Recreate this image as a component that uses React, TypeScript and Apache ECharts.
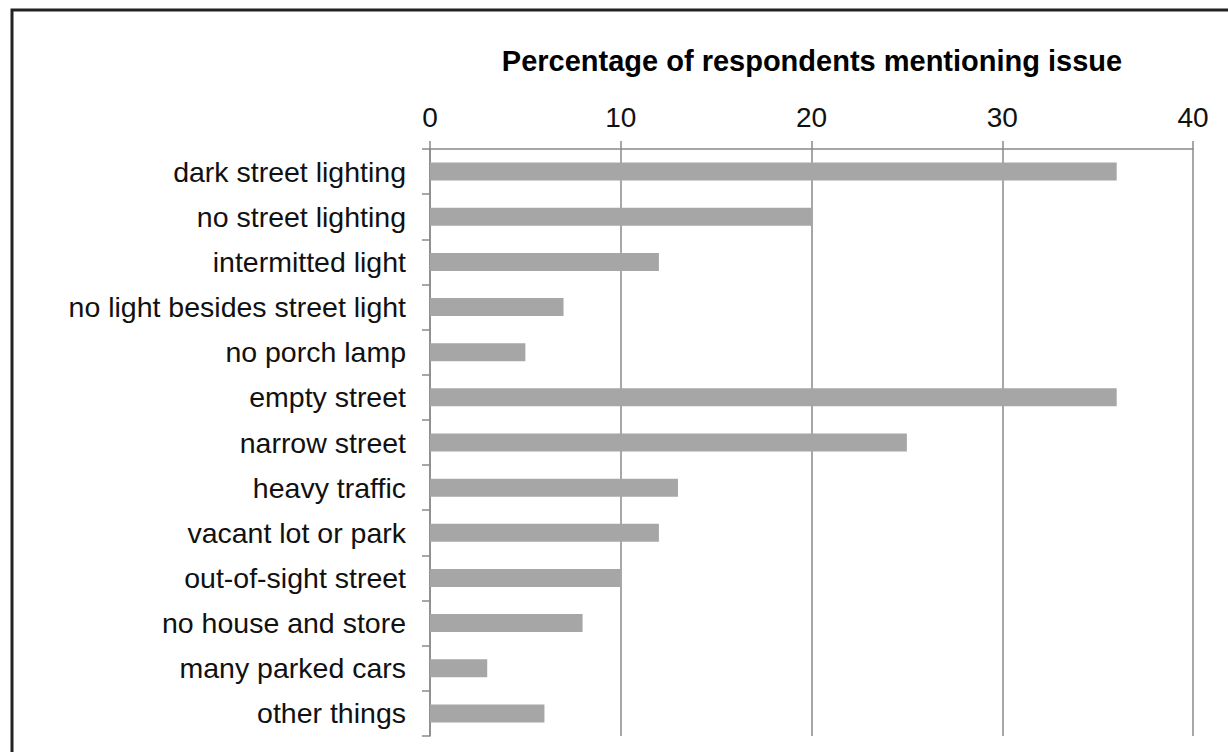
import React, { useEffect, useRef } from "react";
import * as echarts from "echarts";

const categories = [
  "dark street lighting",
  "no street lighting",
  "intermitted light",
  "no light besides street light",
  "no porch lamp",
  "empty street",
  "narrow street",
  "heavy traffic",
  "vacant lot or park",
  "out-of-sight street",
  "no house and store",
  "many parked cars",
  "other things",
];
const values = [36, 20, 12, 7, 5, 36, 25, 13, 12, 10, 8, 3, 6];
const axisTitle = "Percentage of respondents mentioning issue";

export default function App() {
  const ref = useRef<HTMLDivElement>(null);
  useEffect(() => {
    if (!ref.current) return;
    const chart = echarts.init(ref.current, undefined, { renderer: "svg" });
    const gridColor = "#8a8a8a";
    const font = "Liberation Sans, Arial, sans-serif";
    chart.setOption({
      animation: false,
      backgroundColor: "#ffffff",
      textStyle: { fontFamily: font },
      grid: { left: 430, right: 35, top: 149, bottom: 16, containLabel: false },
      xAxis: {
        type: "value",
        position: "top",
        min: 0,
        max: 40,
        interval: 10,
        axisLine: { show: true, lineStyle: { color: gridColor, width: 1.5 } },
        axisTick: { show: true, length: 8, lineStyle: { color: gridColor, width: 1.5 } },
        axisLabel: { fontSize: 28, color: "#111", margin: 18, fontFamily: font },
        splitLine: { show: true, lineStyle: { color: gridColor, width: 1.5 } },
      },
      yAxis: {
        type: "category",
        data: categories,
        inverse: true,
        axisLine: { show: true, lineStyle: { color: gridColor, width: 1.5 } },
        axisTick: { show: true, length: 8, lineStyle: { color: gridColor, width: 1.5 } },
        axisLabel: { fontSize: 28.5, color: "#111", margin: 24, fontFamily: font },
        splitLine: { show: false },
      },
      series: [
        {
          type: "bar",
          data: values,
          barWidth: 18,
          itemStyle: { color: "#a6a6a6" },
        },
      ],
      graphic: [
        {
          type: "rect",
          shape: { x: 12, y: 10, width: 1300, height: 800 },
          style: { fill: "none", stroke: "#222", lineWidth: 3 },
          silent: true,
        },
        {
          type: "text",
          x: 812,
          y: 61,
          style: {
            text: axisTitle,
            fontSize: 29,
            fontWeight: "bold",
            fill: "#000",
            align: "center",
            verticalAlign: "middle",
            fontFamily: font,
          },
        },
      ],
    });
    return () => chart.dispose();
  }, []);
  return (
    <div
      ref={ref}
      style={{ position: "fixed", left: 0, top: 0, width: 1228, height: 752, background: "#fff" }}
    />
  );
}
